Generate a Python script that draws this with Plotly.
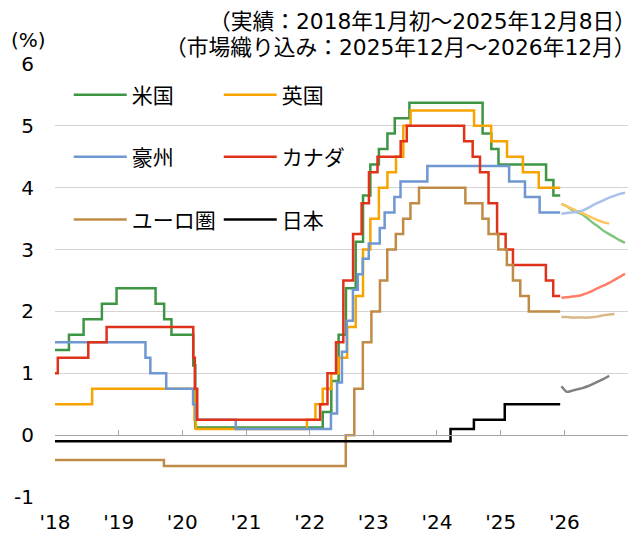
import plotly.graph_objects as go

# ---------------- data ----------------
us_dates = ['2018-01-01','2018-03-22','2018-06-14','2018-09-27','2018-12-20','2019-08-01','2019-09-19','2019-10-31',
            '2020-03-04','2020-03-16','2022-03-17','2022-05-05','2022-06-16','2022-07-28','2022-09-22','2022-11-03',
            '2022-12-15','2023-02-02','2023-03-23','2023-05-04','2023-07-27','2024-09-19','2024-11-08','2024-12-19',
            '2025-09-18','2025-10-30','2025-12-08']
us_vals = [1.375,1.625,1.875,2.125,2.375,2.125,1.875,1.625,1.125,0.125,0.375,0.875,1.625,2.375,3.125,3.875,
           4.375,4.625,4.875,5.125,5.375,4.875,4.625,4.375,4.125,3.875,3.875]

uk_dates = ['2018-01-01','2018-08-02','2020-03-11','2020-03-19','2021-12-16','2022-02-03','2022-03-17','2022-05-05',
            '2022-06-16','2022-08-04','2022-09-22','2022-11-03','2022-12-15','2023-02-02','2023-03-23','2023-05-11',
            '2023-06-22','2023-08-03','2024-08-01','2024-11-07','2025-02-06','2025-05-08','2025-08-07','2025-12-08']
uk_vals = [0.5,0.75,0.25,0.1,0.25,0.5,0.75,1.0,1.25,1.75,2.25,3.0,3.5,4.0,4.25,4.5,5.0,5.25,5.0,4.75,4.5,4.25,4.0,4.0]

aus_dates = ['2018-01-01','2019-06-04','2019-07-02','2019-10-01','2020-03-03','2020-03-19','2020-11-03','2022-05-03',
             '2022-06-07','2022-07-05','2022-08-02','2022-09-06','2022-10-04','2022-11-01','2022-12-06','2023-02-07',
             '2023-03-07','2023-05-02','2023-06-06','2023-11-07','2025-02-18','2025-05-20','2025-08-12','2025-12-08']
aus_vals = [1.5,1.25,1.0,0.75,0.5,0.25,0.1,0.35,0.85,1.35,1.85,2.35,2.6,2.85,3.1,3.35,3.6,3.85,4.1,4.35,4.1,3.85,3.6,3.6]

can_dates = ['2018-01-01','2018-01-17','2018-07-11','2018-10-24','2020-03-04','2020-03-13','2020-03-27','2022-03-02',
             '2022-04-13','2022-06-01','2022-07-13','2022-09-07','2022-10-26','2022-12-07','2023-01-25','2023-06-07',
             '2023-07-12','2024-06-05','2024-07-24','2024-09-04','2024-10-23','2024-12-11','2025-01-29','2025-03-12',
             '2025-09-17','2025-10-29','2025-12-08']
can_vals = [1.0,1.25,1.5,1.75,1.25,0.75,0.25,0.5,1.0,1.5,2.5,3.25,3.75,4.25,4.5,4.75,5.0,4.75,4.5,4.25,3.75,3.25,
            3.0,2.75,2.5,2.25,2.25]

eur_dates = ['2018-01-01','2019-09-18','2022-07-27','2022-09-14','2022-11-02','2022-12-21','2023-02-08','2023-03-22',
             '2023-05-10','2023-06-21','2023-08-02','2023-09-20','2024-06-12','2024-09-18','2024-10-23','2024-12-18',
             '2025-02-05','2025-03-12','2025-04-23','2025-06-11','2025-12-08']
eur_vals = [-0.4,-0.5,0.0,0.75,1.5,2.0,2.5,3.0,3.25,3.5,3.75,4.0,3.75,3.5,3.25,3.0,2.75,2.5,2.25,2.0,2.0]

jp_dates = ['2018-01-01','2024-03-19','2024-07-31','2025-01-24','2025-12-08']
jp_vals = [-0.1,0.1,0.25,0.5,0.5]

# market pricing (Dec 2025 - Dec 2026)
fc_dates = ['2025-12-15','2026-01-15','2026-02-15','2026-03-15','2026-04-15','2026-05-15','2026-06-15',
            '2026-07-15','2026-08-15','2026-09-15','2026-10-15','2026-11-15','2026-12-15']
us_fc = [3.74,3.70,3.64,3.60,3.57,3.50,3.43,3.37,3.30,3.25,3.20,3.15,3.11]
uk_fc = [3.74,3.70,3.66,3.62,3.59,3.55,3.51,3.47,3.44,3.42]
aus_fc = [3.58,3.59,3.60,3.61,3.63,3.67,3.72,3.76,3.80,3.84,3.87,3.90,3.92]
can_fc = [2.22,2.23,2.24,2.25,2.27,2.30,2.34,2.38,2.42,2.46,2.51,2.56,2.61]
eur_fc = [1.91,1.91,1.90,1.90,1.90,1.90,1.91,1.92,1.94,1.95,1.96]
jp_fc = [0.79,0.70,0.72,0.74,0.76,0.79,0.83,0.87,0.91,0.96]

year_ticks = ['2018-01-01','2019-01-01','2020-01-01','2021-01-01','2022-01-01','2023-01-01',
              '2024-01-01','2025-01-01','2026-01-01']
year_labels = ["'18","'19","'20","'21","'22","'23","'24","'25","'26"]
y_ticks = [-1, 0, 1, 2, 3, 4, 5, 6]
y_labels = ['-1', '0', '1', '2', '3', '4', '5', '6']

# ---------------- figure ----------------
FONT = "DejaVu Sans, Noto Sans CJK JP, sans-serif"
fig = go.Figure()

actual = [
    ('米国', us_dates, us_vals, '#3E9645', 'legend'),
    ('英国', uk_dates, uk_vals, '#F7A400', 'legend'),
    ('豪州', aus_dates, aus_vals, '#6F97D2', 'legend2'),
    ('カナダ', can_dates, can_vals, '#E0321A', 'legend2'),
    ('ユーロ圏', eur_dates, eur_vals, '#C08A47', 'legend3'),
    ('日本', jp_dates, jp_vals, '#000000', 'legend3'),
]
forecast = [
    (us_fc, '#80C47D'), (uk_fc, '#FFC65A'), (aus_fc, '#A9C1E8'),
    (can_fc, '#FF7F66'), (eur_fc, '#D9B889'), (jp_fc, '#808080'),
]

for name, d, v, c, lg in actual:
    fig.add_trace(go.Scatter(x=d, y=v, mode='lines', name=name, line=dict(color=c, width=2.5, shape='hv'),
                             legend=lg, hoverinfo='skip'))
for v, c in forecast:
    fig.add_trace(go.Scatter(x=fc_dates[:len(v)], y=v, mode='lines', showlegend=False,
                             line=dict(color=c, width=2.5, shape='spline', smoothing=0.6), hoverinfo='skip'))

# helper trace for the axis drawn at y=0
fig.add_trace(go.Scatter(x=[year_ticks[0]], y=[None], xaxis='x2', showlegend=False, hoverinfo='skip'))

leg_common = dict(orientation='h', xanchor='left', yanchor='middle', bgcolor='rgba(0,0,0,0)',
                  font=dict(family=FONT, size=21, color='#000000'), itemwidth=53,
                  entrywidth=82, entrywidthmode='pixels', tracegroupgap=0)

# page body has an 8px margin: figure is placed at (8, 8) in the 638x537 window
fig.update_layout(
    width=630, height=529,
    margin=dict(l=47, r=10, t=56, b=40, autoexpand=False),
    paper_bgcolor='white', plot_bgcolor='white',
    font=dict(family=FONT, size=19, color='#000000'),
    xaxis=dict(type='date', range=['2018-01-01', '2027-01-01'], tickvals=year_ticks, ticktext=year_labels,
               showgrid=False, zeroline=False, showline=False, ticks='', ticklabelstandoff=11, automargin=False,
               tickfont=dict(family=FONT, size=20, color='#000000')),
    xaxis2=dict(type='date', range=['2018-01-01', '2027-01-01'], overlaying='x', anchor='free', position=1/7,
                side='bottom', tickvals=year_ticks + ['2027-01-01'], showticklabels=False, ticks='inside',
                ticklen=5, tickcolor='#A6A6A6', showline=True, linecolor='#A6A6A6', linewidth=1,
                showgrid=False, zeroline=False, automargin=False),
    yaxis=dict(range=[-1, 6], tickvals=y_ticks, ticktext=y_labels, showgrid=True, gridcolor='#D4D4D4',
               gridwidth=1, zeroline=False, showline=False, ticklabelstandoff=20, automargin=False,
               tickfont=dict(family=FONT, size=20, color='#000000')),
    legend=dict(x=0.024, y=0.928, **leg_common),
    legend2=dict(x=0.024, y=0.785, **leg_common),
    legend3=dict(x=0.024, y=0.640, **leg_common),
    annotations=[
        dict(text='(%)', xref='paper', yref='paper', x=-0.047, y=1.055, xanchor='center', yanchor='middle',
             showarrow=False, font=dict(family=FONT, size=20)),
        dict(text='（実績：2018年1月初～2025年12月8日）', xref='paper', yref='paper', x=1.017, y=1.097,
             xanchor='right', yanchor='middle', showarrow=False, font=dict(family=FONT, size=21.75)),
        dict(text='（市場織り込み：2025年12月～2026年12月）', xref='paper', yref='paper', x=1.017, y=1.037,
             xanchor='right', yanchor='middle', showarrow=False, font=dict(family=FONT, size=21.75)),
    ],
)

fig.write_html('out.html')
